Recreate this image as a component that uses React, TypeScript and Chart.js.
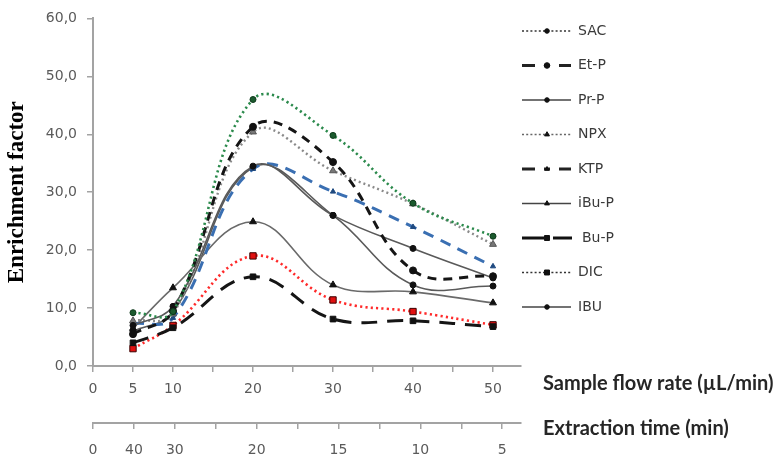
import React, { useEffect, useRef } from 'react';
import { Chart, registerables } from 'chart.js';
import { drawPoint } from 'chart.js/helpers';

Chart.register(...registerables);

// ---------- data ----------
const flowRates = [5, 10, 20, 30, 40, 50];
const seriesNames = ['SAC', 'Et-P', 'Pr-P', 'NPX', 'KTP', 'iBu-P', 'Bu-P', 'DIC', 'IBU'];
const sacValues = [9.2, 9.4, 46.0, 39.8, 28.1, 22.4];
const etPValues = [5.5, 9.5, 41.3, 35.2, 16.5, 15.5];
const prPValues = [7.0, 10.3, 34.5, 26.0, 20.3, 15.2];
const npxValues = [7.8, 9.0, 40.4, 33.7, 28.0, 21.0];
const ktpValues = [7.3, 8.3, 34.0, 30.1, 24.0, 17.2];
const iBuPValues = [6.5, 13.5, 24.9, 14.0, 12.8, 10.9];
const buPValues = [4.0, 6.6, 15.4, 8.1, 7.8, 6.8];
const dicValues = [3.0, 7.0, 19.0, 11.4, 9.4, 7.1];
const ibuValues = [6.0, 9.3, 34.3, 26.0, 14.0, 13.8];
const seriesValues = [sacValues, etPValues, prPValues, npxValues, ktpValues, iBuPValues, buPValues, dicValues, ibuValues];

const flowTickValues = [0, 5, 10, 20, 30, 40, 50];
const flowTickLabels = ['0', '5', '10', '20', '30', '40', '50'];
const timeTickLabels = ['0', '40', '30', '20', '15', '10', '5'];
const axisTickMarks = [0, 5, 10, 15, 20, 25, 30, 35, 40, 45, 50];
const xAxisTitle = 'Sample flow rate (µL/min)';
const x2AxisTitle = 'Extraction time (min)';
const yAxisTitle = 'Enrichment factor';

// ---------- styles ----------
const dashLegend = [13, 9, 6, 9, 13];
const seriesStyles = [
  { color: '#2b8a4c', width: 2.6, dash: [2.2, 3.2], pStyle: 'circle', pRadius: 3, pFill: '#1b5a2e', pBorder: '#0f3a1c', lDash: [2, 2.2], lWidth: 1.6, lColor: '#333', lRadius: 2.3 },
  { color: '#151515', width: 3, dash: [9, 7], pStyle: 'circle', pRadius: 3.5, pFill: '#111', pBorder: '#111', lDash: dashLegend, lWidth: 3, lColor: '#222', lRadius: 2.8 },
  { color: '#5a5a5a', width: 1.6, dash: [], pStyle: 'circle', pRadius: 3, pFill: '#111', pBorder: '#111', lDash: [], lWidth: 1.4, lColor: '#444', lRadius: 2.3 },
  { color: '#8a8a8a', width: 2.4, dash: [2, 3], pStyle: 'triangle', pRadius: 4, pFill: '#777', pBorder: '#555', lDash: [2, 2.2], lWidth: 1.6, lColor: '#666', lRadius: 2.8 },
  { color: '#3a6fb2', width: 3, dash: [11, 8], pStyle: 'triangle', pRadius: 3, pFill: '#1f4a80', pBorder: '#1f4a80', lDash: dashLegend, lWidth: 3, lColor: '#222', lRadius: 2.5 },
  { color: '#6a6a6a', width: 1.6, dash: [], pStyle: 'triangle', pRadius: 4, pFill: '#111', pBorder: '#111', lDash: [], lWidth: 1.4, lColor: '#444', lRadius: 2.8 },
  { color: '#151515', width: 3, dash: [16, 10], pStyle: 'rect', pRadius: 4, pFill: '#111', pBorder: '#111', lDash: [], lWidth: 3, lColor: '#111', lRadius: 3.5 },
  { color: '#ff2a2a', width: 2.6, dash: [2.2, 3.2], pStyle: 'rect', pRadius: 4.5, pFill: '#e01010', pBorder: '#3a0000', lDash: [2, 2.2], lWidth: 1.6, lColor: '#333', lRadius: 3.5 },
  { color: '#5a5a5a', width: 1.6, dash: [], pStyle: 'circle', pRadius: 3, pFill: '#111', pBorder: '#111', lDash: [], lWidth: 1.4, lColor: '#444', lRadius: 2.3 },
];

const tickFont = { family: '"DejaVu Sans", sans-serif', size: 14 };
const tickColor = '#5a5a5a';
const axisColor = '#a3a3a3';

const overlayPlugin = {
  id: 'overlayText',
  afterDraw(chart: any) {
    const ctx = chart.ctx as CanvasRenderingContext2D;
    const area = chart.chartArea;
    const legendLeft = area.right + 1;
    ctx.save();
    chart.data.datasets.forEach((ds: any, i: number) => {
      const st = seriesStyles[i];
      const y = 31 + i * 34.5;
      ctx.strokeStyle = st.lColor;
      ctx.lineWidth = st.lWidth;
      ctx.setLineDash(st.lDash);
      ctx.beginPath();
      if (ds.label === 'Bu-P') {
        ctx.moveTo(legendLeft, y);
        ctx.lineTo(legendLeft + 22, y);
        ctx.moveTo(legendLeft + 31, y);
        ctx.lineTo(legendLeft + 50, y);
      } else {
        ctx.moveTo(legendLeft, y);
        ctx.lineTo(legendLeft + 49, y);
      }
      ctx.stroke();
      ctx.setLineDash([]);
      ctx.lineWidth = 1;
      ctx.fillStyle = '#111';
      ctx.strokeStyle = '#111';
      drawPoint(ctx, { pointStyle: st.pStyle, radius: st.lRadius, rotation: 0, borderWidth: 1 } as any, legendLeft + 25, y);
      ctx.fillStyle = '#3a3a3a';
      ctx.font = '14px "DejaVu Sans", sans-serif';
      ctx.textAlign = 'left';
      ctx.textBaseline = 'middle';
      ctx.fillText(ds.label, legendLeft + 56 + (ds.label === 'Bu-P' ? 4 : 0), y);
    });
    const xs = chart.scales.x;
    const x2 = chart.scales.x2;
    ctx.fillStyle = '#262626';
    ctx.font = 'bold 20px Lato, sans-serif';
    ctx.textAlign = 'left';
    ctx.textBaseline = 'middle';
    ctx.fillText(xAxisTitle, area.right + 22, xs.top + 18);
    ctx.fillText(x2AxisTitle, area.right + 22, x2.top + 6);
    ctx.restore();
  },
};

export default function App() {
  const canvasRef = useRef<HTMLCanvasElement | null>(null);

  useEffect(() => {
    document.body.style.margin = '0';
    const canvas = canvasRef.current;
    if (!canvas) return;
    const datasets = seriesNames.map((name, i) => {
      const st = seriesStyles[i];
      return {
        label: name,
        data: flowRates.map((x, j) => ({ x, y: seriesValues[i][j] })),
        borderColor: st.color,
        borderWidth: st.width,
        borderDash: st.dash,
        tension: 0.4,
        fill: false,
        pointStyle: st.pStyle,
        pointRadius: st.pRadius,
        pointBackgroundColor: st.pFill,
        pointBorderColor: st.pBorder,
        pointBorderWidth: 1,
        xAxisID: 'x',
        yAxisID: 'y',
      };
    });

    const chart = new Chart(canvas, {
      type: 'line',
      data: { datasets } as any,
      plugins: [overlayPlugin],
      options: {
        animation: false,
        responsive: false,
        maintainAspectRatio: false,
        layout: { padding: { top: 17, right: 260, bottom: 0, left: 0 } },
        plugins: { legend: { display: false }, tooltip: { enabled: false } },
        scales: {
          x: {
            type: 'linear',
            position: 'bottom',
            min: 0,
            max: 53.5,
            weight: 0,
            afterBuildTicks: (scale: any) => {
              scale.ticks = axisTickMarks.map((v) => ({ value: v }));
            },
            afterFit: (scale: any) => {
              scale.height = 57;
            },
            ticks: {
              autoSkip: false,
              maxRotation: 0,
              padding: 9,
              color: tickColor,
              font: tickFont,
              callback: (value: any) => {
                const idx = flowTickValues.indexOf(Number(value));
                return idx >= 0 ? flowTickLabels[idx] : '';
              },
            },
            grid: { drawOnChartArea: false, drawTicks: true, tickLength: 6, color: axisColor, lineWidth: 1.5 },
            border: { color: axisColor, width: 2 },
          },
          x2: {
            type: 'linear',
            position: 'bottom',
            display: true,
            min: 0,
            max: 52.3,
            weight: 1,
            afterBuildTicks: (scale: any) => {
              scale.ticks = axisTickMarks.map((v) => ({ value: v }));
            },
            afterFit: (scale: any) => {
              scale.height = 40;
            },
            ticks: {
              autoSkip: false,
              maxRotation: 0,
              padding: 13,
              color: tickColor,
              font: tickFont,
              callback: (value: any) => {
                const idx = flowTickValues.indexOf(Number(value));
                return idx >= 0 ? timeTickLabels[idx] : '';
              },
            },
            grid: { drawOnChartArea: false, drawTicks: true, tickLength: 6, color: axisColor, lineWidth: 1.5 },
            border: { color: axisColor, width: 2 },
          },
          y: {
            type: 'linear',
            min: 0,
            max: 60,
            afterFit: (scale: any) => {
              scale.width = 93;
            },
            ticks: {
              stepSize: 10,
              padding: 10,
              color: tickColor,
              font: tickFont,
              callback: (value: any) => Number(value).toFixed(1).replace('.', ','),
            },
            title: {
              display: true,
              text: yAxisTitle,
              color: '#000',
              font: { family: '"Liberation Serif", "Times New Roman", serif', size: 23, weight: 'bold' },
              padding: { top: 3, bottom: 0 },
            },
            grid: { drawOnChartArea: false, drawTicks: true, tickLength: 6, color: axisColor, lineWidth: 1.5 },
            border: { color: axisColor, width: 2 },
          },
        },
      } as any,
    });
    return () => chart.destroy();
  }, []);

  return (
    <div style={{ width: 781, height: 463, background: '#fff' }}>
      <canvas ref={canvasRef} width={781} height={463} style={{ display: 'block' }} />
    </div>
  );
}
